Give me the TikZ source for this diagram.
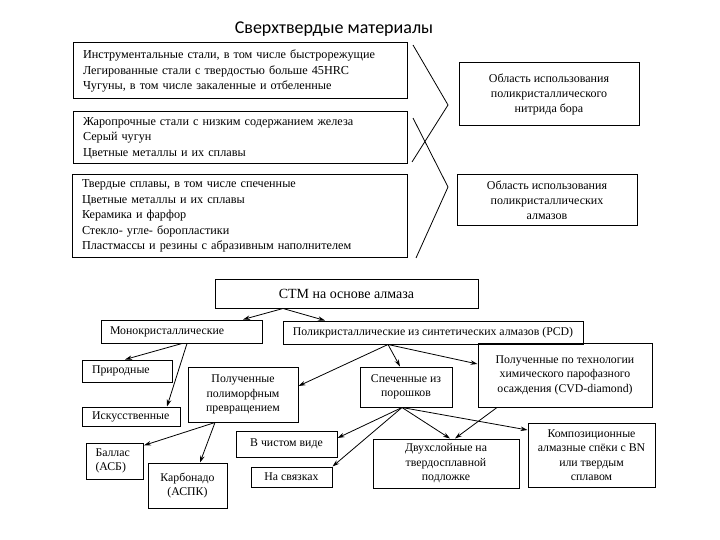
\documentclass[tikz,border=0pt]{standalone}
\usepackage{fontspec}
\setmainfont{Liberation Serif}
\newfontfamily\titlefont{Carlito}
\usetikzlibrary{arrows.meta}

\begin{document}
\begin{tikzpicture}[x=1pt,y=-1pt,
  box/.style={draw,line width=1pt,inner sep=0pt,align=center,font=\fontsize{11.8}{14.5}\selectfont},
  sbox/.style={box,align=left,inner xsep=9pt},
  lbox/.style={draw,line width=1pt,inner xsep=10pt,inner ysep=0pt,align=left,font=\fontsize{12.2}{15.5}\selectfont},
  arr/.style={-{Stealth[length=7pt,width=4.5pt]},line width=0.8pt}]
\useasboundingbox (0,0) rectangle (720,540);
%
\node (title) at (334,29) {\titlefont\fontsize{18}{20}\selectfont Сверхтвердые материалы};

% materials
\node[lbox,text width=314pt,minimum height=56pt] (A1) at (240,71) {Инструментальные стали, в том числе быстрорежущие\\
Легированные стали с твердостью больше 45HRC\\
Чугуны, в том числе закаленные и отбеленные};
\node[lbox,text width=314pt,minimum height=52pt] (A2) at (240,138) {Жаропрочные стали с низким содержанием железа\\
Серый чугун\\
Цветные металлы и их сплавы};
\node[lbox,text width=315pt,minimum height=82pt] (A3) at (239.5,216) {Твердые сплавы, в том числе спеченные\\
Цветные металлы и их сплавы\\
Керамика и фарфор\\
Стекло- угле- боропластики\\
Пластмассы и резины с абразивным наполнителем};

% areas
\node[box,font=\fontsize{12}{15}\selectfont,minimum width=180pt,minimum height=63pt] (B1) at (549,94.5) {Область использования\\ поликристаллического\\ нитрида бора};
\node[box,font=\fontsize{12}{15}\selectfont,minimum width=180pt,minimum height=51pt] (B2) at (547,200.5) {Область использования\\ поликристаллических\\ алмазов};
\draw[line width=0.8pt] (413,45) -- (448,105) -- (412,162);
\draw[line width=0.8pt] (413,118) -- (448,187) -- (416,258);

% STM tree
\node[box,font=\fontsize{14}{16}\selectfont,minimum width=263pt,minimum height=29pt] (C0) at (346.5,293.5) {СТМ на основе алмаза};
\node[sbox,text width=143pt,minimum height=23pt] (M) at (181.5,331.5) {Монокристаллические};
\node[box,minimum width=300pt,minimum height=23pt] (P) at (433,332.5) {Поликристаллические из синтетических алмазов (PCD)};
\node[sbox,inner xsep=10pt,text width=70pt,minimum height=22pt] (Nat) at (127,371) {Природные};
\node[sbox,inner xsep=10pt,text width=78pt,minimum height=19pt] (Art) at (131,416.5) {Искусственные};
\node[box,minimum width=110pt,minimum height=55pt] (Poly) at (243,394.5) {Полученные\\полиморфным\\превращением};
\node[box,minimum width=92pt,minimum height=40pt] (Sint) at (406,387) {Спеченные из\\порошков};
\node[box,minimum width=174pt,minimum height=64pt] (CVD) at (565,375) {Полученные по технологии\\химического парофазного\\осаждения (CVD-diamond)};
\node[box,minimum width=101pt,minimum height=26pt] (Pure) at (286.5,444) {В чистом виде};
\node[box,minimum width=81pt,minimum height=20pt] (Bind) at (291.5,477) {На связках};
\node[box,minimum width=146pt,minimum height=49pt] (Two) at (446,463.5) {Двухслойные на\\твердосплавной\\подложке};
\node[box,minimum width=127pt,minimum height=64pt] (Comp) at (591.5,455) {Композиционные\\алмазные спёки с BN\\или твердым\\сплавом};
\node[sbox,anchor=north west,inner xsep=9pt,inner ysep=5pt,text width=39pt,text depth=18pt] (Ball) at (86,443) {Баллас\\(АСБ)};
\node[box,minimum width=79pt,minimum height=45pt] (Carb) at (187.5,485.5) {Карбонадо\\(АСПК)};

% arrows
\draw[arr] ([xshift=-63.5pt]C0.south) -- ([xshift=61.5pt]M.north);
\draw[arr] ([xshift=-63.5pt]C0.south) -- ([xshift=-108pt]P.north);
\draw[arr] ([xshift=0.5pt]M.south) -- ([xshift=-2pt]Nat.north);
\draw[arr] ([xshift=5.5pt]M.south) -- ([xshift=36pt]Art.north);
\draw[arr] ([xshift=-45pt]P.south) -- ([yshift=8.5pt]Poly.east);
\draw[arr] ([xshift=-45pt]P.south) -- ([xshift=-6pt]Sint.north);
\draw[arr] ([xshift=-45pt]P.south) -- ([yshift=11pt]CVD.west);
\draw[arr] ([xshift=-28pt]Poly.south) -- ([yshift=16pt]Ball.east);
\draw[arr] ([xshift=-28pt]Poly.south) -- ([xshift=12.5pt]Carb.north);
\draw[arr] ([xshift=-4pt]Sint.south) -- ([yshift=6pt]Pure.east);
\draw[arr] ([xshift=-4pt]Sint.south) -- (Bind.north east);
\draw[arr] ([xshift=-4pt]Sint.south) -- ([xshift=4pt]Two.north);
\draw[arr] ([xshift=-4pt]Sint.south) -- ([yshift=25pt]Comp.west);
\draw[arr] ([xshift=-68pt]CVD.south) -- ([xshift=9pt]Two.north);

\end{tikzpicture}
\end{document}
